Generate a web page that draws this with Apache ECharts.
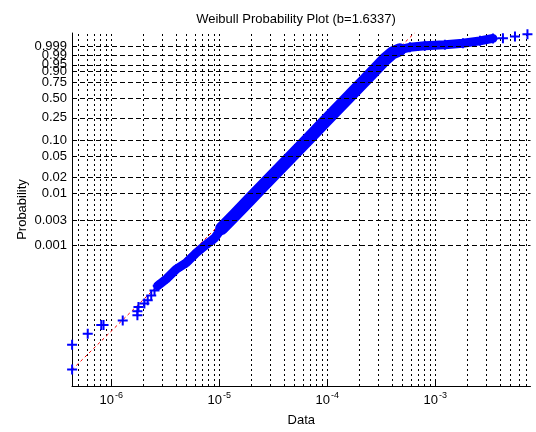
<!DOCTYPE html>
<html>
<head>
<meta charset="utf-8">
<script src="https://cdn.jsdelivr.net/npm/echarts@6/dist/echarts.min.js"></script>
<style>
  html, body { margin: 0; padding: 0; background: #fff; }
  #chart { width: 536px; height: 432px; }
</style>
</head>
<body>
<div id="chart"></div>
<script>
// probability axis ticks
var probTicks = [0.999, 0.99, 0.95, 0.90, 0.75, 0.50, 0.25, 0.10, 0.05, 0.02, 0.01, 0.003, 0.001];
var probLabels = ['0.999', '0.99', '0.95', '0.90', '0.75', '0.50', '0.25', '0.10', '0.05', '0.02', '0.01', '0.003', '0.001'];

// log grid: decades and multipliers
var decades = [-7, -6, -5, -4, -3];
var multipliers = [1, 2, 3, 4, 5, 6, 7, 8, 9];

// lower tail, single crosses
var tailX = [4.35e-7, 4.35e-7, 6.07e-7, 8.1e-7, 8.5e-7, 1.28e-6, 1.75e-6, 1.75e-6, 1.79e-6, 2.03e-6, 2.18e-6, 2.35e-6, 2.52e-6];
var tailP = [4.08e-6, 1.23e-5, 1.99e-5, 2.94e-5, 2.94e-5, 3.58e-5, 4.55e-5, 5.42e-5, 6.54e-5, 7.59e-5, 8.77e-5, 1.09e-4, 1.36e-4];

// dense band of points
var bandX = [2.70e-6, 3.24e-6, 4.00e-6, 4.96e-6, 6.14e-6, 7.60e-6, 9.07e-6, 1.053e-5, 1.390e-5, 1.915e-5,
  2.637e-5, 3.633e-5, 5.005e-5, 6.891e-5, 9.493e-5, 1.3075e-4, 1.800e-4, 2.480e-4, 3.417e-4, 4.053e-4,
  4.707e-4, 5.83e-4, 8.02e-4, 1.23e-3, 1.806e-3, 2.596e-3, 3.426e-3];
var bandP = [1.68e-4, 2.26e-4, 3.49e-4, 4.65e-4, 7.19e-4, 1.04e-3, 1.38e-3, 2.11e-3, 3.826e-3, 7.605e-3,
  0.015156, 0.029947, 0.05875, 0.11358, 0.21427, 0.38135, 0.61567, 0.85099, 0.97780, 0.994295,
  0.997229, 0.99859, 0.99910, 0.99934, 0.99960, 0.999836, 0.99994];

// upper tail crosses
var endX = [4.24e-3, 5.48e-3, 7.15e-3];
var endP = [0.999945, 0.9999753, 0.9999915];

// fitted reference line
var fitX = [4.34e-7, 6.45e-4];
var fitP = [4.04e-6, 0.999996];

var xMin = 4.34e-7, xMax = 7.63e-3;
var yMin = -13.14, yMax = 2.514;

// weibull probability scale
var weib = function (p) {
    return Math.log(-Math.log(1 - p));
};
var pairs = function (xs, ps) {
    var out = [];
    for (var i = 0; i < xs.length; i++) {
        out.push([xs[i], weib(ps[i])]);
    }
    return out;
};

var plus = 'path://M4,0H6V4H10V6H6V10H4V6H0V4H4Z';
var font = 'Liberation Sans';

// vertical grid at every log tick
var vLines = [];
decades.forEach(function (d) {
    multipliers.forEach(function (m) {
        var v = m * Math.pow(10, d);
        if (v > xMin && v < xMax) {
            vLines.push({coords: [[v, yMin], [v, yMax]]});
        }
    });
});
// horizontal grid + probability labels
var hLines = [];
probTicks.forEach(function (p, i) {
    hLines.push({yAxis: weib(p), name: probLabels[i]});
});

var bandData = pairs(bandX, bandP);
var allPoints = pairs(tailX, tailP).concat(bandData, pairs(endX, endP));

// band is thinner at the ends, thicker in the middle
var bandPart = function (from, to, width) {
    return {
        type: 'line',
        data: bandData.slice(from, to),
        symbol: 'none',
        z: 3,
        lineStyle: {color: '#0000ff', width: width, cap: 'round', join: 'round'}
    };
};

var option = {
    animation: false,
    backgroundColor: '#fff',
    title: {
        text: 'Weibull Probability Plot (b=1.6337)',
        left: 291,
        top: 8,
        textAlign: 'center',
        textStyle: {fontSize: 13, fontWeight: 'normal', color: '#000', fontFamily: font}
    },
    grid: {left: 72, right: 5.5, top: 33, bottom: 40},
    xAxis: {
        type: 'log',
        logBase: 10,
        min: xMin,
        max: xMax,
        name: 'Data',
        nameLocation: 'middle',
        nameGap: 28,
        nameTextStyle: {fontSize: 13, color: '#000', fontFamily: font},
        axisLine: {onZero: false, lineStyle: {color: '#000', width: 1}},
        axisTick: {inside: true, length: 5, lineStyle: {color: '#000'}},
        splitLine: {show: false},
        axisLabel: {
            showMinLabel: false,
            showMaxLabel: false,
            margin: 5,
            formatter: function (v) {
                var e = Math.round(Math.log(v) / Math.LN10);
                if (Math.abs(Math.log(v) / Math.LN10 - e) > 1e-6) return '';
                return '{b|10}{s|' + e + '}';
            },
            rich: {
                b: {fontSize: 13, fontFamily: font, color: '#000', lineHeight: 16, verticalAlign: 'bottom'},
                s: {fontSize: 9, fontFamily: font, color: '#000', lineHeight: 16, verticalAlign: 'top', padding: [0, 0, 0, 1]}
            }
        }
    },
    yAxis: {
        type: 'value',
        min: yMin,
        max: yMax,
        name: 'Probability',
        nameLocation: 'middle',
        nameGap: 43,
        nameTextStyle: {fontSize: 13, color: '#000', fontFamily: font},
        axisLine: {show: true, onZero: false, lineStyle: {color: '#000', width: 1}},
        axisTick: {show: false},
        axisLabel: {show: false},
        splitLine: {show: false}
    },
    series: [
        {
            name: 'vgrid',
            type: 'lines',
            coordinateSystem: 'cartesian2d',
            silent: true,
            z: 0,
            data: vLines,
            lineStyle: {color: '#000', width: 1, type: [2, 3], opacity: 1, curveness: 0}
        },
        {
            name: 'fit',
            type: 'line',
            data: pairs(fitX, fitP),
            symbol: 'none',
            z: 1,
            lineStyle: {color: '#ff0000', width: 1, type: [3, 3]},
            markLine: {
                silent: true,
                symbol: ['none', 'none'],
                lineStyle: {color: '#000', width: 1, type: [5, 3]},
                label: {show: true, position: 'start', formatter: '{b}', distance: 5,
                    color: '#000', fontSize: 13, fontFamily: font},
                data: hLines
            }
        },
        bandPart(0, 8, 9),
        bandPart(7, 21, 13),
        bandPart(20, bandData.length, 9),
        {
            name: 'data',
            type: 'scatter',
            data: allPoints,
            symbol: plus,
            symbolSize: 10,
            z: 4,
            itemStyle: {color: '#0000ff', opacity: 1}
        }
    ]
};

var myChart = echarts.init(document.getElementById('chart'));
myChart.setOption(option);
</script>
</body>
</html>
